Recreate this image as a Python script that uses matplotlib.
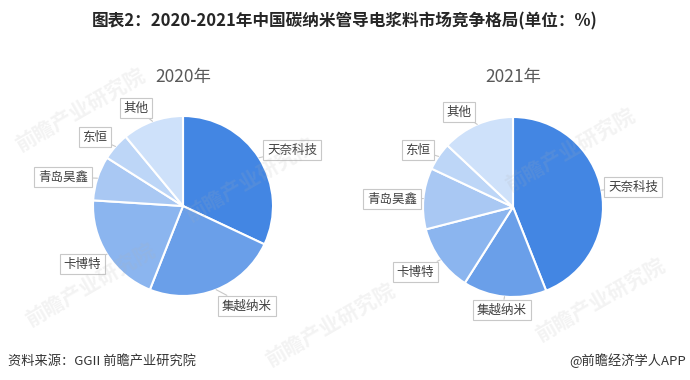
import numpy as np
import matplotlib
matplotlib.use('Agg')
import matplotlib.pyplot as plt

plt.rcParams['font.family'] = ['Noto Sans CJK SC', 'DejaVu Sans']

companies = ['天奈科技', '集越纳米', '卡博特', '青岛昊鑫', '东恒', '其他']
share_2020 = [32, 24, 20, 8, 5, 11]
share_2021 = [44, 15, 12, 11, 5, 13]
years = ['2020年', '2021年']

colors = ['#4386e3', '#6a9fe9', '#8bb5ef', '#a9c8f3', '#bdd6f7', '#cee1fa']

W, H = 690, 380
fig = plt.figure(figsize=(W / 100, H / 100), dpi=100)
ax = fig.add_axes([0, 0, 1, 1])


def Y(y):
    # pixel row (top-down) -> data y
    return H - y


# pie centres / label boxes in pixel coords
pies = [
    dict(cx=183, cy=206, vals=share_2020, title=years[0],
         boxes=[(292, 150), (247, 306), (82, 264), (63, 177), (95, 137), (136, 108)]),
    dict(cx=513, cy=207, vals=share_2021, title=years[1],
         boxes=[(633, 187), (502, 310), (415, 272), (392, 199), (418, 150), (459, 112)]),
]
R = 90

for p in pies:
    wedges, _ = ax.pie(p['vals'], colors=colors, startangle=90, counterclock=False,
                       center=(p['cx'], Y(p['cy'])), radius=R,
                       wedgeprops=dict(edgecolor='white', linewidth=1.5))
    ax.text(p['cx'], Y(77), p['title'], ha='center', va='center',
            fontsize=12.5, color='#595959')
    for w, name, (bx, by) in zip(wedges, companies, p['boxes']):
        mid = np.deg2rad((w.theta1 + w.theta2) / 2)
        ex = p['cx'] + R * np.cos(mid)
        ey = Y(p['cy']) + R * np.sin(mid)
        ax.annotate(name, xy=(ex, ey), xytext=(bx, Y(by)),
                    ha='center', va='center', fontsize=9, color='#404040',
                    bbox=dict(boxstyle='square,pad=0.3', fc='white', ec='#c8c8c8', lw=0.8),
                    arrowprops=dict(arrowstyle='-', color='#c8c8c8', lw=0.8,
                                    shrinkA=0, shrinkB=0))

# faint watermarks
for (x, y) in [(80, 110), (250, 180), (570, 150), (90, 285), (600, 300), (330, 325)]:
    ax.text(x, Y(y), '前瞻产业研究院', rotation=30, ha='center', va='center',
            fontsize=15, fontweight='bold', color='#b0b0b0', alpha=0.15, zorder=5)

ax.text(W / 2, Y(21), '图表2：2020-2021年中国碳纳米管导电浆料市场竞争格局(单位：%)',
        ha='center', va='center', fontsize=12, fontweight='bold', color='#262626')
ax.text(8, Y(361), '资料来源：GGII 前瞻产业研究院', ha='left', va='center',
        fontsize=9.5, color='#333333')
ax.text(686, Y(361), '@前瞻经济学人APP', ha='right', va='center',
        fontsize=9.5, color='#333333')

ax.set_xlim(0, W)
ax.set_ylim(0, H)
ax.set_aspect('auto')
ax.axis('off')

plt.savefig('out.png', dpi=100)
